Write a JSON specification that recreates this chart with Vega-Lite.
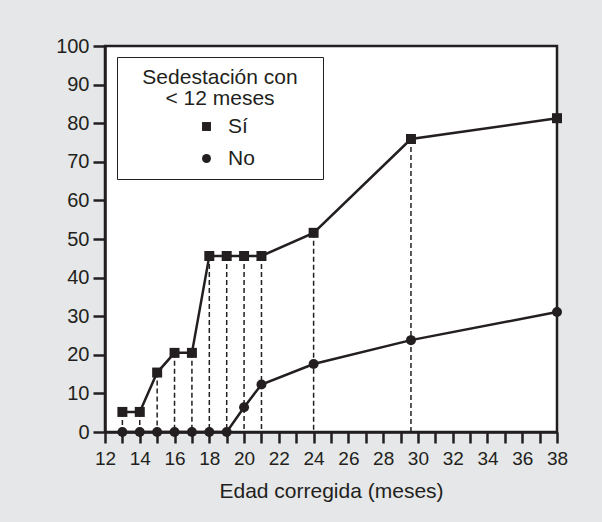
{
  "$schema": "https://vega.github.io/schema/vega-lite/v6.json",
  "autosize": {"type": "none"},
  "padding": {"left": 105, "top": 46, "right": 45, "bottom": 90},
  "width": 452,
  "height": 386,
  "background": "#e6e7e8",
  "config": {
    "view": {"stroke": "#231f20", "strokeWidth": 2.5, "fill": "white"},
    "font": "Liberation Sans",
    "axis": {"grid": false, "domainColor": "#231f20", "domainWidth": 2.5, "tickColor": "#231f20", "tickWidth": 2.5, "labelColor": "#231f20", "titleColor": "#231f20", "labelFont": "Liberation Sans", "titleFont": "Liberation Sans", "titleFontWeight": "normal"}
  },
  "data": {"values": [
    {"edad": 13, "grupo": "Sí", "pct": 5.2},
    {"edad": 14, "grupo": "Sí", "pct": 5.2},
    {"edad": 15, "grupo": "Sí", "pct": 15.4},
    {"edad": 16, "grupo": "Sí", "pct": 20.5},
    {"edad": 17, "grupo": "Sí", "pct": 20.5},
    {"edad": 18, "grupo": "Sí", "pct": 45.6},
    {"edad": 19, "grupo": "Sí", "pct": 45.6},
    {"edad": 20, "grupo": "Sí", "pct": 45.6},
    {"edad": 21, "grupo": "Sí", "pct": 45.6},
    {"edad": 24, "grupo": "Sí", "pct": 51.6},
    {"edad": 29.6, "grupo": "Sí", "pct": 75.9},
    {"edad": 38, "grupo": "Sí", "pct": 81.3},
    {"edad": 13, "grupo": "No", "pct": 0},
    {"edad": 14, "grupo": "No", "pct": 0},
    {"edad": 15, "grupo": "No", "pct": 0},
    {"edad": 16, "grupo": "No", "pct": 0},
    {"edad": 17, "grupo": "No", "pct": 0},
    {"edad": 18, "grupo": "No", "pct": 0},
    {"edad": 19, "grupo": "No", "pct": 0},
    {"edad": 20, "grupo": "No", "pct": 6.4},
    {"edad": 21, "grupo": "No", "pct": 12.3},
    {"edad": 24, "grupo": "No", "pct": 17.6},
    {"edad": 29.6, "grupo": "No", "pct": 23.8},
    {"edad": 38, "grupo": "No", "pct": 31.1}
  ]},
  "encoding": {
    "x": {"field": "edad", "type": "quantitative",
      "scale": {"domain": [12, 38], "nice": false, "zero": false},
      "axis": {"title": "Edad corregida (meses)", "titleFontSize": 21, "titlePadding": 12,
        "values": [12,13,14,15,16,17,18,19,20,21,22,23,24,25,26,27,28,29,30,31,32,33,34,35,36,37,38],
        "labelExpr": "datum.value % 2 === 0 ? datum.label : ''",
        "labelOverlap": false, "labelFlush": false, "labelFontSize": 19,
        "tickSize": 11, "labelPadding": 6, "format": "d"}},
    "y": {"field": "pct", "type": "quantitative",
      "scale": {"domain": [0, 100], "nice": false},
      "axis": {"title": null, "values": [0,10,20,30,40,50,60,70,80,90,100], "labelFontSize": 20, "tickSize": 12, "labelPadding": 4, "labelFlush": false, "labelOverlap": false}}
  },
  "layer": [
    {
      "transform": [{"filter": "datum.grupo === 'Sí'"}],
      "mark": {"type": "rule", "color": "#231f20", "strokeWidth": 1.5, "strokeDash": [5, 3]},
      "encoding": {"y2": {"datum": 0}}
    },
    {
      "mark": {"type": "line", "color": "#231f20", "strokeWidth": 2.5},
      "encoding": {"detail": {"field": "grupo"}}
    },
    {
      "mark": {"type": "point", "filled": true, "color": "#231f20", "opacity": 1, "size": 100},
      "encoding": {
        "shape": {"field": "grupo", "type": "nominal",
          "scale": {"domain": ["Sí", "No"], "range": ["square", "circle"]},
          "legend": {"title": ["\u2800Sedestación con\u2800", "< 12 meses"], "orient": "none", "legendX": 12, "legendY": 11,
            "titleFontSize": 21, "titleFontWeight": "normal", "titleAlign": "center", "titleAnchor": "middle", "titleLineHeight": 21, "titleColor": "#231f20", "titlePadding": 7, "titleLimit": 300,
            "labelFontSize": 21, "labelColor": "#231f20", "labelOffset": 11,
            "symbolSize": 80, "symbolFillColor": "#231f20", "symbolStrokeWidth": 0, "symbolOffset": 10,
            "rowPadding": 10, "padding": 10,
            "fillColor": "white", "strokeColor": "#231f20",
            "encode": {"legend": {"update": {"strokeWidth": {"value": 2}}}}}}
      }
    }
  ]
}
